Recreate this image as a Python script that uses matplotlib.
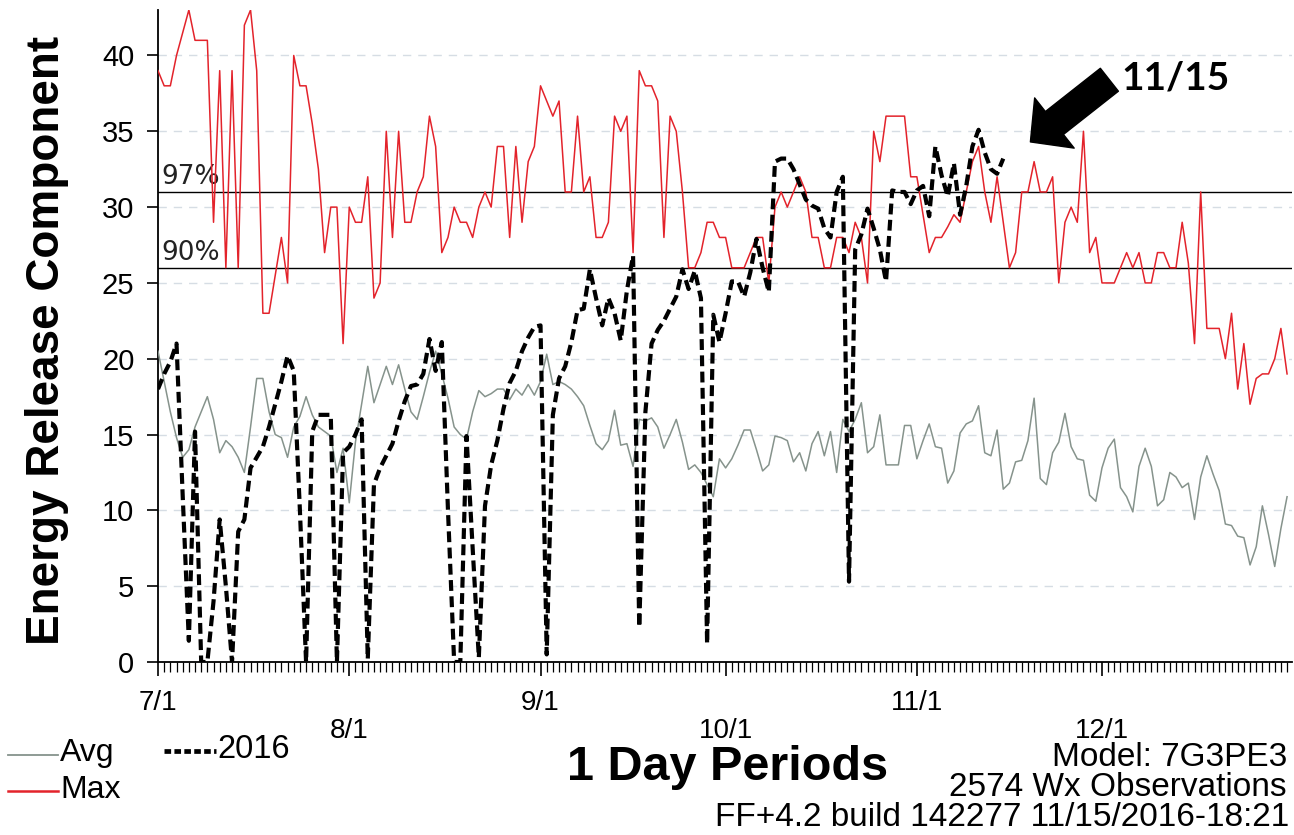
import numpy as np
import matplotlib
matplotlib.use("Agg")
import matplotlib.pyplot as plt
from matplotlib.lines import Line2D
from matplotlib.ticker import FixedLocator, MultipleLocator

plt.rcParams['font.family'] = ['Liberation Sans', 'DejaVu Sans']

# ---------------- data (day index 0 = 7/1) ----------------
max_erc = [39, 38, 38, 40, 41.5, 43, 41, 41, 41, 29, 39, 26, 39, 26, 42, 43, 39, 23, 23, 25.5,
           28, 25, 40, 38, 38, 35.5, 32.5, 27, 30, 30, 21, 30, 29, 29, 32, 24, 25, 35, 28, 35,
           29, 29, 31, 32, 36, 34, 27, 28, 30, 29, 29, 28, 30, 31, 30, 34, 34, 28, 34, 29,
           33, 34, 38, 37, 36, 37, 31, 31, 36, 31, 32, 28, 28, 29, 36, 35, 36, 27, 39, 38,
           38, 37, 28, 36, 35, 31, 26, 26, 27, 29, 29, 28, 28, 26, 26, 26, 27, 28, 28, 25,
           30, 31, 30, 31, 32, 31, 28, 28, 26, 26, 28, 28, 27, 29, 28, 25, 35, 33, 36, 36,
           36, 36, 32, 32, 29.5, 27, 28, 28, 28.7, 29.5, 29, 31, 33, 34, 31, 29, 32, 29, 26, 27,
           31, 31, 33, 31, 31, 32, 25, 29, 30, 29, 35, 27, 28, 25, 25, 25, 26, 27, 26, 27,
           25, 25, 27, 27, 26, 26, 29, 26.3, 21, 31, 22, 22, 22, 20, 23, 18, 21, 17, 18.7, 19,
           19, 20, 22, 19]

avg_erc = [20.5, 18.5, 16.5, 14.8, 13.5, 14, 15.5, 16.5, 17.5, 16, 13.8, 14.6, 14.2, 13.5, 12.5, 15.5,
           18.7, 18.7, 16.5, 15, 14.8, 13.5, 15.5, 16.2, 17.5, 16.3, 15.5, 15.2, 14.9, 12.5, 14.1, 10.5,
           14.5, 17, 19.5, 17.1, 18.3, 19.5, 18.3, 19.6, 18, 16.5, 16, 17.5, 19.1, 20.5, 19, 17.4,
           15.5, 15, 14.7, 16.5, 17.9, 17.5, 17.7, 18, 18, 17.3, 18, 17.6, 18.3, 17.6, 18.5, 20.3,
           18.3, 18.5, 18.3, 18, 17.5, 16.9, 15.6, 14.4, 14, 14.6, 16.6, 14.3, 14.4, 12.9, 16, 15.9,
           16.1, 15.5, 14.1, 15, 16, 14.5, 12.7, 13, 12.5, 11.7, 10.9, 13.4, 12.8, 13.4, 14.3, 15.3,
           15.3, 14, 12.6, 13, 14.9, 14.8, 14.6, 13.2, 13.8, 12.6, 14.4, 15.2, 13.6, 15.2, 12.5, 16,
           15.2, 16, 17.1, 13.8, 14.2, 16.3, 13, 13, 13, 15.6, 15.6, 13.4, 14.6, 15.7, 14.2, 14.1,
           11.8, 12.6, 15.1, 15.7, 15.9, 16.9, 13.8, 13.6, 15.3, 11.4, 11.8, 13.2, 13.3, 14.6, 17.4, 12.1,
           11.7, 13.8, 14.5, 16.4, 14.2, 13.4, 13.3, 11, 10.6, 12.8, 14.1, 14.7, 11.5, 10.9, 9.9, 12.9,
           14.1, 12.9, 10.3, 10.7, 12.5, 12.2, 11.5, 11.8, 9.4, 12.2, 13.6, 12.4, 11.3, 9.1, 9, 8.3,
           8.2, 6.4, 7.6, 10.3, 8.4, 6.3, 8.8, 10.9]

erc_2016 = [18, 19, 19.8, 21, 11, 1.4, 15.2, 0, 0, 4, 9.4, 5, 0, 8.6, 9.4, 12.8, 13.5, 14.2, 15.5, 17,
            18.5, 20.2, 19.2, 10, 0, 15.2, 16.3, 16.3, 16.3, 0, 13.8, 14.2, 15, 16, 0.2, 11.7, 12.8, 13.6, 14.4, 15.9,
            17.2, 18.2, 18.3, 19, 21.3, 19.2, 21.1, 10, 0, 0, 14.9, 7.5, 0.3, 10.3, 13, 14.6, 16.7, 18.4, 19.2, 20.5,
            21.4, 22.1, 22.2, 0.5, 16.3, 18.7, 19.5, 21.1, 23.2, 23.3, 25.9, 24, 22.2, 24, 23, 21.2, 24.5, 26.8, 2.3, 16.5,
            21, 21.9, 22.5, 23.3, 24.1, 25.9, 24.6, 25.8, 24, 1.2, 22.9, 21.1, 23, 25.1, 25.1, 24.1, 25.7, 27.9, 26, 24.4,
            33, 33.2, 33.2, 32.5, 31.5, 30.5, 30.1, 29.9, 28.6, 28, 31, 32, 5.3, 27.2, 28.2, 29.9, 28.6, 27.2, 25.1, 31.1,
            31, 31, 30.2, 31.1, 31.4, 29.4, 34, 32.1, 30.7, 32.9, 29.5, 31.4, 34, 35.1, 33.6, 32.5, 32.2, 33.2]

pct97 = 31.0
pct90 = 26.0
month_days = [0, 31, 62, 92, 123, 153]
month_labels = ['7/1', '8/1', '9/1', '10/1', '11/1', '12/1']
y_ticks = [0, 5, 10, 15, 20, 25, 30, 35, 40]

RED = '#e3232b'
GRAY = '#86938c'

# ---------------- figure ----------------
W, H = 1294, 835
fig = plt.figure(figsize=(W / 100, H / 100), dpi=100)
fig.patch.set_facecolor('white')

def fx(px):
    return px / W

def fy(py):
    return 1 - py / H

ax = fig.add_axes([fx(158), fy(662), fx(1292) - fx(158), fy(10) - fy(662)])
ax.set_xlim(0, 183.8)
ax.set_ylim(0, 43)

for s in ['top', 'right']:
    ax.spines[s].set_visible(False)
for s in ['left', 'bottom']:
    ax.spines[s].set_color('black')
    ax.spines[s].set_linewidth(1.3)

# faint dashed grid
ax.set_yticks(y_ticks)
ax.yaxis.grid(True, color='#d6dde4', linestyle=(0, (6, 5)), linewidth=1.0)
ax.set_axisbelow(True)

# percentile lines
ax.axhline(pct97, color='black', lw=1.0, zorder=2)
ax.axhline(pct90, color='black', lw=1.0, zorder=2)
ax.text(0.5, pct97 + 0.1, '97%', fontsize=19, ha='left', va='bottom', color='#222222',
        family=['DejaVu Sans'])
ax.text(0.5, pct90 + 0.1, '90%', fontsize=19, ha='left', va='bottom', color='#222222',
        family=['DejaVu Sans'])

ax.plot(np.arange(len(max_erc)), max_erc, color=RED, lw=1.1, zorder=3)
ax.plot(np.arange(len(avg_erc)), avg_erc, color=GRAY, lw=1.1, zorder=3)
ax.plot(np.arange(len(erc_2016)), erc_2016, color='black', lw=3.0,
        linestyle=(0, (2.6, 1.3)), zorder=4)

# ticks
ax.tick_params(axis='y', direction='out', length=8, width=1.2, labelsize=21, pad=9)
ax.xaxis.set_major_locator(FixedLocator(month_days))
ax.xaxis.set_minor_locator(MultipleLocator(1))
labels = [lab if i % 2 == 0 else '\n' + lab for i, lab in enumerate(month_labels)]
ax.set_xticklabels(labels, fontsize=20, linespacing=1.12)
ax.tick_params(axis='x', which='major', direction='out', length=10, width=1.2, pad=10)
ax.tick_params(axis='x', which='minor', direction='out', length=7, width=0.9)

# y label
fig.text(fx(47), fy(340), 'Energy Release Component', rotation=90, fontsize=33,
         fontweight='bold', ha='center', va='center')
# x label
fig.text(fx(728), fy(768), '1 Day Periods', fontsize=35, fontweight='bold',
         ha='center', va='center')

# legend (custom)
fig.add_artist(Line2D([fx(8), fx(58)], [fy(755), fy(755)], color=GRAY, lw=1.3))
fig.text(fx(60), fy(753), 'Avg', fontsize=23, ha='left', va='center')
fig.add_artist(Line2D([fx(8), fx(58)], [fy(791), fy(791)], color=RED, lw=1.8))
fig.text(fx(60), fy(790), 'Max', fontsize=23, ha='left', va='center')
fig.add_artist(Line2D([fx(164), fx(216)], [fy(751), fy(751)], color='black', lw=3.4,
                      linestyle=(0, (1.4, 0.7))))
fig.text(fx(217), fy(749), '2016', fontsize=23.5, ha='left', va='center')

# bottom-right info
fig.text(fx(1287), fy(757), 'Model: 7G3PE3', fontsize=24, ha='right', va='center')
fig.text(fx(1287), fy(787), '2574 Wx Observations', fontsize=24, ha='right', va='center')
fig.text(fx(1289), fy(818), 'FF+4.2 build 142277 11/15/2016-18:21', fontsize=24,
         ha='right', va='center')

# 11/15 annotation with block arrow
ax.annotate('', xy=(141.4, 34.3), xytext=(154.2, 38.4),
            arrowprops=dict(arrowstyle='simple,head_length=1.1,head_width=2.3,tail_width=1.05',
                            fc='black', ec='black', mutation_scale=20,
                            shrinkA=0, shrinkB=0))
ax.text(165.0, 38.5, '11/15', fontsize=28, fontweight='bold', ha='center', va='center',
        family=['Lato', 'DejaVu Sans'])

fig.savefig('out.png', dpi=100)
